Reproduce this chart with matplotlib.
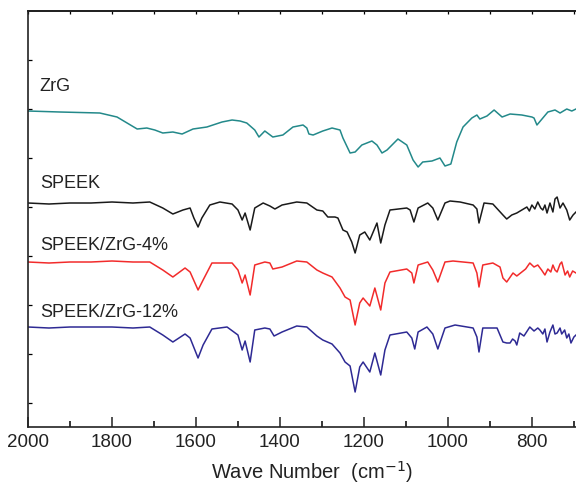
import numpy as np
import matplotlib
matplotlib.use('Agg')
import matplotlib.pyplot as plt
from matplotlib.ticker import MultipleLocator

plt.rcParams['font.family'] = ['Liberation Sans', 'DejaVu Sans']

# FTIR spectra (wavenumber in cm-1, transmittance in a.u., offset per trace)
zrg_wn = [2000, 1924, 1829, 1788, 1764, 1740, 1717, 1698, 1679, 1655, 1633, 1607, 1574, 1538,
          1514, 1495, 1479, 1460, 1450, 1436, 1417, 1393, 1369, 1345, 1336, 1331, 1321, 1298,
          1276, 1257, 1250, 1233, 1221, 1205, 1181, 1169, 1157, 1145, 1119, 1098, 1083, 1071,
          1060, 1038, 1019, 1007, 993, 979, 964, 943, 931, 924, 907, 890, 871, 852, 824, 800,
          795, 788, 776, 762, 745, 733, 717, 705, 695]
zrg_t = [316, 315, 314, 310, 304, 298, 299, 297, 294, 295, 293, 298, 300, 305,
         307, 306, 304, 297, 290, 296, 290, 292, 300, 302, 299, 293, 292, 296,
         299, 297, 289, 274, 275, 282, 286, 282, 274, 277, 288, 282, 267, 260,
         265, 266, 269, 261, 263, 285, 300, 309, 312, 308, 311, 317, 310, 313, 312, 310,
         309, 302, 308, 315, 317, 314, 318, 316, 318]

speek_wn = [2000, 1950, 1900, 1850, 1800, 1750, 1710, 1679, 1655, 1631, 1614, 1605, 1595, 1586,
            1567, 1543, 1514, 1500, 1490, 1483, 1471, 1460, 1440, 1424, 1412, 1395, 1360, 1336,
            1312, 1298, 1286, 1269, 1262, 1250, 1240, 1229, 1221, 1210, 1198, 1186, 1169, 1160,
            1150, 1138, 1098, 1090, 1081, 1071, 1048, 1036, 1024, 1007, 995, 971, 940, 931,
            926, 914, 893, 869, 860, 848, 836, 824, 812, 806, 800, 793, 786, 779, 774, 769,
            764, 757, 750, 745, 740, 733, 726, 717, 710, 702, 695]
speek_t = [224, 223, 224, 224, 225, 224, 225, 219, 213, 217, 219, 209, 200, 209,
           222, 225, 223, 217, 207, 214, 197, 219, 224, 221, 218, 222, 225, 224,
           217, 216, 210, 210, 209, 197, 195, 185, 174, 192, 195, 187, 204, 184,
           202, 217, 219, 217, 205, 219, 224, 219, 207, 224, 226, 225, 222, 218,
           204, 224, 223, 212, 208, 212, 214, 217, 220, 216, 222, 218, 225, 219, 217, 222,
           214, 224, 215, 228, 230, 219, 224, 217, 207, 212, 215]

zrg4_wn = [2000, 1950, 1900, 1850, 1800, 1750, 1710, 1679, 1655, 1626, 1614, 1595, 1583, 1562,
           1514, 1500, 1490, 1483, 1471, 1460, 1436, 1424, 1417, 1395, 1360, 1336, 1312, 1298,
           1276, 1257, 1245, 1233, 1221, 1210, 1202, 1186, 1174, 1160, 1150, 1138, 1098, 1086,
           1081, 1071, 1048, 1036, 1024, 1007, 988, 940, 931, 926, 917, 893, 876, 869, 860,
           845, 836, 824, 815, 805, 795, 786, 777, 769, 762, 755, 750, 745, 740, 733, 729,
           721, 715, 710, 703, 695]
zrg4_t = [165, 164, 165, 165, 166, 165, 165, 157, 150, 159, 155, 137, 147, 164,
          164, 157, 144, 152, 132, 162, 165, 164, 158, 160, 166, 165, 157, 154,
          150, 139, 130, 127, 102, 124, 129, 121, 139, 117, 144, 155, 158, 154,
          144, 162, 165, 157, 145, 165, 166, 164, 154, 140, 162, 164, 160, 149, 145,
          154, 151, 155, 158, 164, 160, 162, 157, 152, 158, 155, 162, 157, 155, 163, 165,
          152, 156, 150, 156, 154]

zrg12_wn = [2000, 1950, 1900, 1850, 1800, 1750, 1710, 1679, 1655, 1626, 1614, 1595, 1583, 1562,
            1526, 1500, 1490, 1483, 1471, 1460, 1436, 1424, 1414, 1395, 1360, 1336, 1312, 1298,
            1276, 1257, 1245, 1233, 1221, 1210, 1202, 1186, 1174, 1160, 1150, 1138, 1098, 1086,
            1079, 1071, 1050, 1036, 1024, 1007, 983, 940, 931, 926, 917, 883, 869, 860, 852,
            846, 840, 836, 829, 819, 805, 795, 786, 781, 774, 769, 764, 757, 750, 745, 740,
            733, 729, 722, 717, 712, 707, 700, 695]
zrg12_t = [100, 99, 100, 100, 100, 99, 100, 92, 85, 93, 89, 69, 82, 98,
           100, 92, 77, 86, 65, 97, 99, 98, 91, 95, 101, 100, 91, 87,
           83, 74, 65, 61, 35, 60, 65, 55, 74, 52, 77, 92, 95, 89,
           78, 95, 100, 93, 78, 99, 102, 99, 90, 75, 99, 99, 85, 84, 84,
           88, 86, 82, 94, 91, 100, 96, 99, 97, 93, 98, 85, 95, 102, 93, 94,
           99, 93, 97, 89, 93, 84, 90, 92]

traces = [
    (zrg_wn, zrg_t, '#23898a', 'ZrG', 341),
    (speek_wn, speek_t, '#1a1a1a', 'SPEEK', 244),
    (zrg4_wn, zrg4_t, '#f22b2b', 'SPEEK/ZrG-4%', 182),
    (zrg12_wn, zrg12_t, '#2e2a94', 'SPEEK/ZrG-12%', 115),
]

fig = plt.figure(figsize=(5.76, 4.87), dpi=100)
ax = fig.add_axes([0.0486, 0.1232, 1.0 - 0.0486, 0.9774 - 0.1232])

for wn, t, color, name, ly in traces:
    ax.plot(wn, t, color=color, linewidth=1.1)
    ax.text(1972, ly, name, fontsize=13, color='#222222', va='center', ha='left')

# spectrum is cropped at the right edge, so no right spine
ax.set_xlim(2000, 695)
ax.set_ylim(0, 416)
ax.spines['right'].set_visible(False)

ax.xaxis.set_major_locator(MultipleLocator(200))
ax.xaxis.set_minor_locator(MultipleLocator(100))
ax.set_yticks([24, 73, 122, 171, 220, 269, 318, 367])
ax.set_yticklabels([])
ax.tick_params(axis='x', which='major', direction='in', length=7, width=1.1,
               labelsize=13.5, pad=5, colors='#222222')
ax.tick_params(axis='x', which='minor', direction='in', length=4, width=1.1)
ax.tick_params(axis='y', direction='in', length=3, width=0.9)

top = ax.secondary_xaxis('top')
top.xaxis.set_major_locator(MultipleLocator(100))
top.tick_params(direction='in', length=2, width=0.9, labeltop=False)
top.spines['top'].set_linewidth(1.2)

for s in ax.spines.values():
    s.set_linewidth(1.2)
    s.set_color('#222222')

fig.text(312 / 576, 1 - 472 / 487, 'Wave Number  (cm$^{-1}$)', fontsize=14.5,
         color='#222222', ha='center', va='center')

fig.savefig('out.png', dpi=100)
